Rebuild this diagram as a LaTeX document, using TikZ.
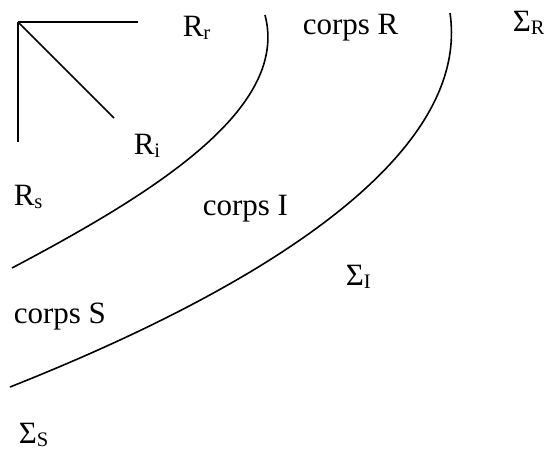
\documentclass[tikz,border=0pt]{standalone}
\usepackage{fontspec}
\setmainfont{Liberation Serif}
\newcommand{\idx}[1]{\raisebox{-1.5pt}{\fontsize{10.3}{11}\selectfont #1}}

\begin{document}
\begin{tikzpicture}[x=0.5pt,y=-0.5pt,line width=0.8pt,
  lbl/.style={anchor=base west,inner sep=0pt,font=\fontsize{15.5}{18}\selectfont}]
\useasboundingbox (0,0) rectangle (544,454);

% the three rays
\coordinate (O) at (18,22);
\coordinate (Er) at (138,22);
\coordinate (Ei) at (114,118);
\coordinate (Es) at (18,142);
\foreach \e in {Er,Ei,Es}{
\draw (O) -- (\e);
}

% interfaces
\draw (265,15) .. controls (290,110) and (150,195) .. (12,268);
\draw (450,13) .. controls (470,150) and (280,280) .. (10,387);

\node[lbl] (Rr) at (182,37) {R\idx{r}};
\node[lbl] (Ri) at (133,155) {R\idx{i}};
\node[lbl] (Rs) at (13,205) {R\idx{s}};

\node[lbl] (corpsR) at (302,35) {corps R};
\node[lbl] (corpsI) at (202,215) {corps I};
\node[lbl] (corpsS) at (13,323) {corps S};

\node[lbl] (SigR) at (512,32) {Σ\idx{R}};
\node[lbl] (SigI) at (345,285) {Σ\idx{I}};
\node[lbl] (SigS) at (18,443) {Σ\idx{S}};

\end{tikzpicture}
\end{document}
